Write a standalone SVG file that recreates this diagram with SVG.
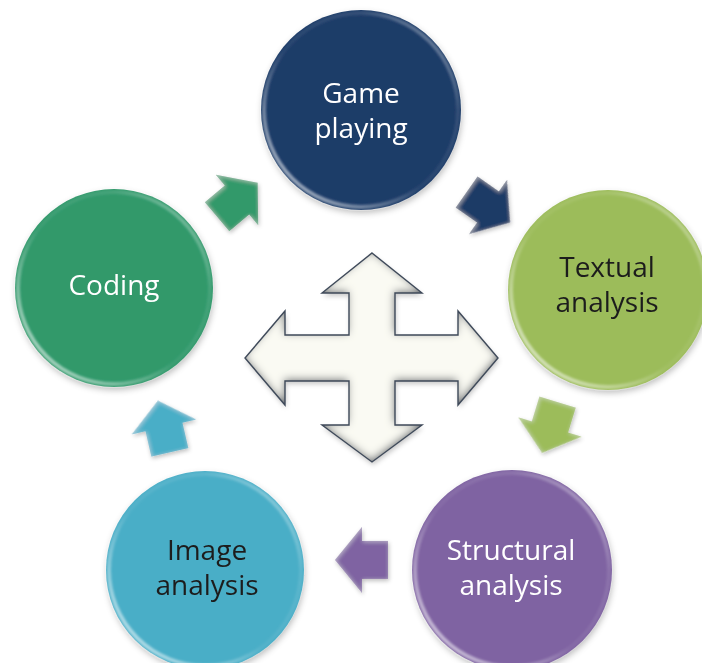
<svg xmlns="http://www.w3.org/2000/svg" width="702" height="663" viewBox="0 0 702 663">
  <style>
    .lbl { font-family: "Open Sans", "Liberation Sans", sans-serif; font-size: 28px; text-anchor: middle; }
    .light { fill: #ffffff; }
    .dark { fill: #1e1e1e; }
    .rim { fill: none; stroke: url(#rimGrad); stroke-width: 4; filter: url(#soft); }
  </style>
  <defs>
    <!-- glossy rim highlight for the discs -->
    <linearGradient id="rimGrad" x1="0" y1="1" x2="1" y2="0">
      <stop offset="0" stop-color="#ffffff" stop-opacity="0.75"/>
      <stop offset="0.45" stop-color="#ffffff" stop-opacity="0.05"/>
      <stop offset="0.75" stop-color="#ffffff" stop-opacity="0.1"/>
      <stop offset="1" stop-color="#ffffff" stop-opacity="0.55"/>
    </linearGradient>
    <filter id="soft" x="-10%" y="-10%" width="120%" height="120%">
      <feGaussianBlur stdDeviation="1.2"/>
    </filter>
    <filter id="shadow" x="-20%" y="-20%" width="140%" height="140%">
      <feGaussianBlur in="SourceAlpha" stdDeviation="3"/>
      <feOffset dx="1" dy="3" result="b"/>
      <feFlood flood-color="#000" flood-opacity="0.25"/>
      <feComposite operator="in" in2="b" result="s"/>
      <feMerge><feMergeNode in="s"/><feMergeNode in="SourceGraphic"/></feMerge>
    </filter>
    <!-- bevelled inner shading for the centre cross -->
    <filter id="bevel" x="-20%" y="-20%" width="140%" height="140%">
      <feComponentTransfer in="SourceAlpha" result="inv">
        <feFuncA type="table" tableValues="1 0"/>
      </feComponentTransfer>
      <feGaussianBlur in="inv" stdDeviation="4" result="ib"/>
      <feOffset in="ib" dx="-1" dy="-2" result="io"/>
      <feFlood flood-color="#4e5560" flood-opacity="1"/>
      <feComposite operator="in" in2="io"/>
      <feComposite operator="in" in2="SourceAlpha" result="inner"/>
      <feGaussianBlur in="SourceAlpha" stdDeviation="2.5"/>
      <feOffset dx="1" dy="3" result="db"/>
      <feFlood flood-color="#000" flood-opacity="0.22"/>
      <feComposite operator="in" in2="db" result="drop"/>
      <feMerge><feMergeNode in="drop"/><feMergeNode in="SourceGraphic"/><feMergeNode in="inner"/></feMerge>
    </filter>
    <filter id="arrowBevel" x="-30%" y="-30%" width="160%" height="160%">
      <feComponentTransfer in="SourceAlpha" result="inv">
        <feFuncA type="table" tableValues="1 0"/>
      </feComponentTransfer>
      <feGaussianBlur in="inv" stdDeviation="2" result="ib"/>
      <feOffset in="ib" dx="1" dy="1" result="io"/>
      <feFlood flood-color="#ffffff" flood-opacity="0.35"/>
      <feComposite operator="in" in2="io"/>
      <feComposite operator="in" in2="SourceAlpha" result="inner"/>
      <feGaussianBlur in="SourceAlpha" stdDeviation="2"/>
      <feOffset dx="1" dy="2" result="db"/>
      <feFlood flood-color="#000" flood-opacity="0.25"/>
      <feComposite operator="in" in2="db" result="drop"/>
      <feMerge><feMergeNode in="drop"/><feMergeNode in="SourceGraphic"/><feMergeNode in="inner"/></feMerge>
    </filter>
    <!-- block arrow pointing right, head base at origin -->
    <path id="blockArrow" d="M-26,-19 H0 V-33 L27,0 L0,33 V19 H-26 Z"/>
    <path id="cross" d="M372,253 L422,293 L395,293 L395,335 L458,335 L458,311 L498,358 L458,405 L458,381 L395,381 L395,425 L422,425 L372,462 L322,425 L349,425 L349,381 L285,381 L285,405 L245,358 L285,311 L285,335 L349,335 L349,293 L322,293 Z"/>
  </defs>

  <rect width="702" height="663" fill="#ffffff"/>

  <!-- centre four-way arrow -->
  <g id="hub">
    <use href="#cross" fill="#fafaf3" filter="url(#bevel)"/>
    <use href="#cross" fill="none" stroke="#3f4a5a" stroke-width="1.4"/>
  </g>

  <!-- cycle connectors -->
  <g id="connectors" filter="url(#arrowBevel)">
    <use href="#blockArrow" fill="#31996b" transform="translate(237,200) rotate(-40)"/>
    <use href="#blockArrow" fill="#1c3a66" transform="translate(488,207) rotate(35)"/>
    <use href="#blockArrow" fill="#9cbc5a" transform="translate(550,427) rotate(107)"/>
    <use href="#blockArrow" fill="#7f63a2" transform="translate(362,560) rotate(180)"/>
    <use href="#blockArrow" fill="#4aaec7" transform="translate(164,427) rotate(-103)"/>
  </g>

  <g id="game-playing" filter="url(#shadow)">
    <circle cx="361" cy="110" r="100" fill="#1d3c68"/>
    <circle class="rim" cx="361" cy="110" r="97"/>
    <text class="lbl light" x="361" y="103">Game</text>
    <text class="lbl light" x="361" y="138">playing</text>
  </g>

  <g id="textual-analysis" filter="url(#shadow)">
    <circle cx="608" cy="290" r="100" fill="#9cbc5a"/>
    <circle class="rim" cx="608" cy="290" r="97"/>
    <text class="lbl dark" x="607" y="277">Textual</text>
    <text class="lbl dark" x="607" y="312">analysis</text>
  </g>

  <g id="structural-analysis" filter="url(#shadow)">
    <circle cx="512" cy="570" r="100" fill="#7f63a2"/>
    <circle class="rim" cx="512" cy="570" r="97"/>
    <text class="lbl light" x="511" y="560">Structural</text>
    <text class="lbl light" x="511" y="595">analysis</text>
  </g>

  <g id="image-analysis" filter="url(#shadow)">
    <circle cx="205" cy="570" r="99" fill="#4aaec7"/>
    <circle class="rim" cx="205" cy="570" r="96"/>
    <text class="lbl dark" x="207" y="560">Image</text>
    <text class="lbl dark" x="207" y="595">analysis</text>
  </g>

  <g id="coding" filter="url(#shadow)">
    <circle cx="114" cy="288" r="99" fill="#31996b"/>
    <circle class="rim" cx="114" cy="288" r="96"/>
    <text class="lbl light" x="114" y="295">Coding</text>
  </g>
</svg>
